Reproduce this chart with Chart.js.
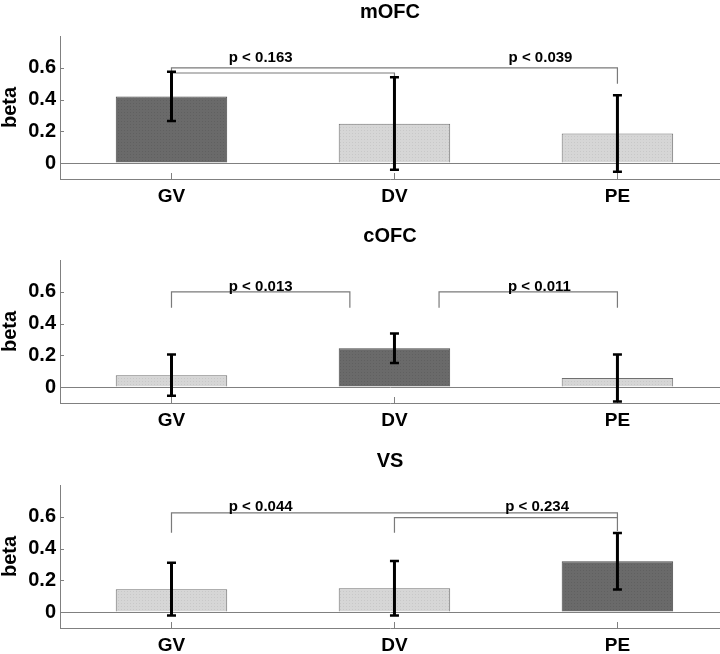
<!DOCTYPE html>
<html lang="en">
<head>
<meta charset="UTF-8">
<title>beta by region</title>
<script src="https://cdn.jsdelivr.net/npm/chart.js"></script>
<style>
  body { margin: 0; background: #fff; width: 720px; height: 654px; overflow: hidden; position: relative; }
  .panel { position: absolute; left: 0; width: 720px; height: 215px; }
</style>
</head>
<body>
<div class="panel" style="top:0px"><canvas id="c0" width="720" height="215"></canvas></div>
<div class="panel" style="top:224px"><canvas id="c1" width="720" height="215"></canvas></div>
<div class="panel" style="top:449px"><canvas id="c2" width="720" height="215"></canvas></div>

<script>
// categories and axis
const categories = ['GV', 'DV', 'PE'];
const yTicks = [0, 0.2, 0.4, 0.6];

// mOFC
const mofcBeta = [0.42, 0.248, 0.186];
const mofcLow = [0.265, -0.042, -0.054];
const mofcHigh = [0.575, 0.54, 0.427];
const mofcP = ['p < 0.163', 'p < 0.039'];
const mofcPX = [1.40, 2.655];
const mofcPY = [0.66, 0.66];
// brackets: [x1, x2, top, leg1 bottom, leg2 bottom]
const mofcBrackets = [[1, 2, 0.567, 0.567, 0.545], [1, 3, 0.6, 0.567, 0.5]];

// cOFC
const cofcBeta = [0.075, 0.244, 0.058];
const cofcLow = [-0.055, 0.151, -0.09];
const cofcHigh = [0.206, 0.337, 0.206];
const cofcP = ['p < 0.013', 'p < 0.011'];
const cofcPX = [1.40, 2.65];
const cofcPY = [0.628, 0.628];
const cofcBrackets = [[1, 1.8, 0.6, 0.5, 0.5], [2.2, 3, 0.6, 0.5, 0.5]];

// VS
const vsBeta = [0.144, 0.15, 0.32];
const vsLow = [-0.022, -0.022, 0.142];
const vsHigh = [0.31, 0.322, 0.498];
const vsP = ['p < 0.044', 'p < 0.234'];
const vsPX = [1.40, 2.64];
const vsPY = [0.66, 0.66];
const vsBrackets = [[1, 3, 0.625, 0.5, 0.51], [2, 3, 0.595, 0.5, 0.595]];

const FONT = "'Liberation Sans', Arial, Helvetica, sans-serif";
const axisGray = '#808080';

function dotted(base, dot) {
    const p = document.createElement('canvas');
    p.width = 3; p.height = 3;
    const c = p.getContext('2d');
    c.fillStyle = base; c.fillRect(0, 0, 3, 3);
    c.fillStyle = dot; c.fillRect(1, 1, 1, 1);
    return c.createPattern(p, 'repeat');
}
const lightFill = dotted('#d6d6d6', '#c8c8c8');
const darkFill = dotted('#6a6a6a', '#606060');

function makePanel(id, title, beta, low, high, dark, brackets, pText, pX, pY) {
    const xs = categories.map((c, i) => i + 1);

    // error bars, brackets, p labels and inward tick marks
    const marks = {
        id: 'marks',
        afterDatasetsDraw(chart) {
            const ctx = chart.ctx;
            const sx = chart.scales.x, sy = chart.scales.y;
            const area = chart.chartArea;
            ctx.save();

            // inward tick marks
            ctx.strokeStyle = axisGray;
            ctx.lineWidth = 1;
            yTicks.forEach(v => {
                const y = Math.round(sy.getPixelForValue(v)) + 0.5;
                ctx.beginPath(); ctx.moveTo(area.left, y); ctx.lineTo(area.left + 4, y); ctx.stroke();
            });
            xs.forEach(v => {
                const x = Math.round(sx.getPixelForValue(v)) + 0.5;
                ctx.beginPath(); ctx.moveTo(x, area.bottom); ctx.lineTo(x, area.bottom - 6); ctx.stroke();
            });

            // brackets
            ctx.strokeStyle = '#7a7a7a';
            ctx.lineWidth = 1.2;
            brackets.forEach(b => {
                const x1 = sx.getPixelForValue(b[0]), x2 = sx.getPixelForValue(b[1]);
                const yt = sy.getPixelForValue(b[2]);
                ctx.beginPath();
                ctx.moveTo(x1, sy.getPixelForValue(b[3]));
                ctx.lineTo(x1, yt);
                ctx.lineTo(x2, yt);
                ctx.lineTo(x2, sy.getPixelForValue(b[4]));
                ctx.stroke();
            });

            // error bars
            ctx.strokeStyle = '#000';
            xs.forEach((v, i) => {
                const x = sx.getPixelForValue(v);
                const yl = sy.getPixelForValue(low[i]), yh = sy.getPixelForValue(high[i]);
                ctx.lineWidth = 3;
                ctx.beginPath(); ctx.moveTo(x, yl); ctx.lineTo(x, yh); ctx.stroke();
                ctx.lineWidth = 2.5;
                ctx.beginPath();
                ctx.moveTo(x - 4.5, yl); ctx.lineTo(x + 4.5, yl);
                ctx.moveTo(x - 4.5, yh); ctx.lineTo(x + 4.5, yh);
                ctx.stroke();
            });

            // p labels
            ctx.fillStyle = '#000';
            ctx.font = 'bold 15px ' + FONT;
            ctx.textAlign = 'center';
            ctx.textBaseline = 'middle';
            pText.forEach((t, i) => {
                ctx.fillText(t, sx.getPixelForValue(pX[i]), sy.getPixelForValue(pY[i]));
            });
            ctx.restore();
        }
    };

    new Chart(document.getElementById(id), {
        type: 'bar',
        data: {
            datasets: [{
                data: beta.map((v, i) => ({ x: xs[i], y: v })),
                backgroundColor: beta.map((v, i) => i === dark ? darkFill : lightFill),
                borderColor: beta.map((v, i) => i === dark ? '#4a4a4a' : '#707070'),
                borderWidth: 1,
                barPercentage: 0.5,
                categoryPercentage: 1
            }]
        },
        options: {
            responsive: false,
            animation: false,
            layout: { padding: 0 },
            plugins: {
                legend: { display: false },
                tooltip: { enabled: false },
                title: {
                    display: true,
                    text: title,
                    fullSize: false,
                    color: '#000',
                    font: { family: FONT, size: 20, weight: 'bold', lineHeight: 1.2 },
                    padding: { top: 0, bottom: 12 }
                }
            },
            scales: {
                x: {
                    type: 'linear',
                    offset: false,
                    min: 0.5,
                    max: 3.46,
                    afterBuildTicks: s => { s.ticks = xs.map(v => ({ value: v })); },
                    afterFit: s => { s.height = 36; },
                    ticks: {
                        callback: (v, i) => categories[i],
                        color: '#000',
                        font: { family: FONT, size: 19, weight: 'bold' },
                        padding: 6,
                        autoSkip: false,
                        maxRotation: 0
                    },
                    grid: { display: false, drawTicks: false, offset: false },
                    border: { color: axisGray, width: 1 }
                },
                y: {
                    min: -0.1,
                    max: 0.8,
                    afterBuildTicks: s => { s.ticks = yTicks.map(v => ({ value: v })); },
                    afterFit: s => { s.width = 60; },
                    ticks: {
                        callback: v => v === 0 ? '0' : v.toFixed(1),
                        color: '#000',
                        font: { family: FONT, size: 20, weight: 'bold' },
                        padding: 4
                    },
                    grid: {
                        drawTicks: false,
                        color: c => (c.tick && c.tick.value === 0) ? axisGray : 'rgba(0,0,0,0)'
                    },
                    border: { color: axisGray, width: 1 },
                    title: {
                        display: true,
                        text: 'beta',
                        color: '#000',
                        font: { family: FONT, size: 20, weight: 'bold', lineHeight: 1 },
                        padding: 0
                    }
                }
            }
        },
        plugins: [marks]
    });
}

makePanel('c0', 'mOFC', mofcBeta, mofcLow, mofcHigh, 0, mofcBrackets, mofcP, mofcPX, mofcPY);
makePanel('c1', 'cOFC', cofcBeta, cofcLow, cofcHigh, 1, cofcBrackets, cofcP, cofcPX, cofcPY);
makePanel('c2', 'VS', vsBeta, vsLow, vsHigh, 2, vsBrackets, vsP, vsPX, vsPY);
</script>
</body>
</html>
